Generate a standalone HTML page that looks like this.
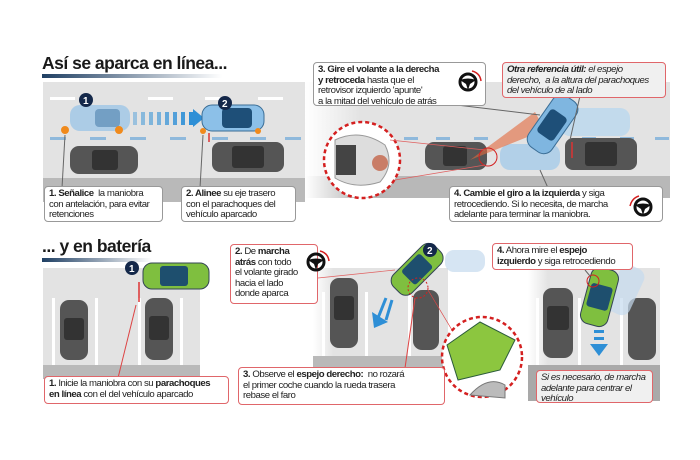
<!DOCTYPE html>
<html><head><meta charset="utf-8"><style>
body{margin:0;background:#fff;width:700px;height:460px;overflow:hidden;position:relative;font-family:"Liberation Sans",sans-serif}
.box{position:absolute;background:#fff;border:1px solid #999;border-radius:4px;padding:2px 4px;font-size:9.6px;line-height:10.6px;color:#222;box-sizing:border-box;letter-spacing:-0.45px;white-space:nowrap;overflow:hidden}
.red{border-color:#e0666a}
.h{position:absolute;font-weight:bold;font-size:17.5px;color:#1a1a1a;letter-spacing:-0.5px}
b{font-weight:bold}
</style></head><body>
<svg width="700" height="460" style="position:absolute;left:0;top:0">
<defs>
<linearGradient id="ul" x1="0" x2="1"><stop offset="0" stop-color="#1f3f63"/><stop offset="1" stop-color="#1f3f63" stop-opacity="0"/></linearGradient>
<linearGradient id="rd" x1="0" x2="1"><stop offset="0" stop-color="#e6e6e6" stop-opacity="0"/><stop offset="0.15" stop-color="#e3e3e3"/><stop offset="1" stop-color="#e3e3e3"/></linearGradient>
<linearGradient id="rd2" x1="0" x2="1"><stop offset="0" stop-color="#bbb" stop-opacity="0"/><stop offset="0.15" stop-color="#b8b8b8"/><stop offset="1" stop-color="#b8b8b8"/></linearGradient>
</defs>
<rect x="42" y="74" width="180" height="4" fill="url(#ul)"/>
<rect x="43" y="82" width="262" height="96" fill="#e3e3e3"/>
<rect x="43" y="178" width="262" height="24" fill="#b9b9b9"/>
<g fill="#fff"><rect x="50" y="97" width="25" height="3"/><rect x="148" y="97" width="25" height="3"/><rect x="205" y="97" width="25" height="3"/><rect x="258" y="97" width="25" height="3"/></g>
<g fill="#8fb9dc"><rect x="50" y="137" width="16" height="3"/><rect x="90" y="137" width="16" height="3"/><rect x="130" y="137" width="16" height="3"/><rect x="170" y="137" width="16" height="3"/><rect x="212" y="137" width="16" height="3"/><rect x="250" y="137" width="16" height="3"/><rect x="285" y="137" width="16" height="3"/></g>
<rect x="70" y="105" width="60" height="26" rx="10" fill="#9ec6e6" opacity="0.8"/>
<rect x="95" y="109" width="25" height="18" rx="4" fill="#5b8bb5" opacity="0.7"/>
<g fill="#2e8fd6"><rect x="133" y="112" width="4" height="13" opacity=".4"/><rect x="141" y="112" width="4" height="13" opacity=".5"/><rect x="149" y="112" width="4" height="13" opacity=".55"/><rect x="157" y="112" width="4" height="13" opacity=".6"/><rect x="165" y="112" width="4" height="13" opacity=".7"/><rect x="173" y="112" width="4" height="13" opacity=".8"/><rect x="181" y="112" width="4" height="13" opacity=".9"/><rect x="189" y="112" width="4" height="13"/></g>
<path d="M193 109 L204 118 L193 127Z" fill="#2e8fd6"/>
<rect x="202" y="105" width="62" height="26" rx="10" fill="#8cc0e8" stroke="#3b6e96"/>
<rect x="222" y="108" width="30" height="20" rx="4" fill="#1e4f78"/>
<rect x="70" y="146" width="68" height="28" rx="9" fill="#555"/><rect x="92" y="150" width="26" height="20" rx="3" fill="#333"/>
<rect x="212" y="142" width="72" height="30" rx="8" fill="#555"/><rect x="232" y="146" width="32" height="22" rx="3" fill="#333"/>
<circle cx="86" cy="100" r="7" fill="#14284a"/><circle cx="225" cy="103" r="7" fill="#14284a"/>
<text x="83" y="104" fill="#fff" font-size="10" font-weight="bold" font-family="Liberation Sans">1</text>
<text x="222" y="107" fill="#fff" font-size="10" font-weight="bold" font-family="Liberation Sans">2</text>
<g fill="#f08a1c"><circle cx="65" cy="130" r="4"/><circle cx="119" cy="130" r="4"/><circle cx="203" cy="131" r="3"/><circle cx="258" cy="131" r="3"/></g>
<line x1="209" y1="133" x2="209" y2="142" stroke="#d33" stroke-width="1.5"/>
<line x1="65" y1="135" x2="62" y2="188" stroke="#666"/><line x1="203" y1="135" x2="200" y2="188" stroke="#666"/>
<rect x="305" y="82" width="365" height="94" fill="url(#rd)"/>
<rect x="305" y="176" width="365" height="22" fill="url(#rd2)"/>
<g fill="#8fb9dc"><rect x="404" y="137" width="14" height="3"/><rect x="436" y="137" width="14" height="3"/><rect x="474" y="137" width="14" height="3"/><rect x="582" y="137" width="14" height="3"/><rect x="620" y="137" width="14" height="3"/><rect x="655" y="137" width="14" height="3"/></g>
<rect x="425" y="142" width="62" height="28" rx="9" fill="#555"/><rect x="443" y="146" width="24" height="20" rx="3" fill="#333"/>
<rect x="565" y="138" width="72" height="32" rx="8" fill="#555"/><rect x="585" y="142" width="32" height="24" rx="3" fill="#333"/>
<rect x="500" y="144" width="60" height="26" rx="10" fill="#a9cde9" opacity="0.85"/>
<rect x="560" y="108" width="70" height="28" rx="10" fill="#b9d7ee" opacity="0.8"/>
<path d="M470 160 L535 112 L545 130Z" fill="#e2673a" opacity="0.6"/>
<g transform="rotate(-55 552 125)"><rect x="522" y="111" width="62" height="28" rx="10" fill="#7fb6e0" stroke="#3b6e96"/><rect x="538" y="115" width="28" height="20" rx="4" fill="#1e4f78"/></g>
<line x1="572" y1="142" x2="572" y2="158" stroke="#d33" stroke-width="1.5"/>
<circle cx="362" cy="160" r="38" fill="#fff" stroke="#d42020" stroke-width="2.5" stroke-dasharray="4 3"/>
<path d="M335 140 Q360 128 385 145 Q395 165 380 182 Q355 190 335 178Z" fill="#ddd" stroke="#999"/>
<rect x="336" y="145" width="20" height="30" fill="#444"/>
<circle cx="380" cy="163" r="8" fill="#c4654a" opacity=".8"/>
<circle cx="488" cy="157" r="9" fill="none" stroke="#d42020"/>
<line x1="390" y1="140" x2="485" y2="150" stroke="#e06060" stroke-width=".7"/><line x1="395" y1="180" x2="485" y2="165" stroke="#e06060" stroke-width=".7"/>
<line x1="440" y1="103" x2="540" y2="115" stroke="#666"/><line x1="580" y1="96" x2="570" y2="140" stroke="#666"/><line x1="540" y1="170" x2="548" y2="188" stroke="#666"/>
<rect x="42" y="258" width="110" height="4" fill="url(#ul)"/>
<rect x="43" y="268" width="157" height="97" fill="#e3e3e3"/><rect x="43" y="365" width="157" height="14" fill="#b9b9b9"/>
<g fill="#fff"><rect x="52" y="298" width="3" height="67"/><rect x="95" y="298" width="3" height="67"/><rect x="138" y="298" width="3" height="67"/><rect x="180" y="298" width="3" height="67"/></g>
<rect x="60" y="300" width="28" height="60" rx="9" fill="#555"/><rect x="64" y="318" width="20" height="22" rx="3" fill="#333"/>
<rect x="145" y="298" width="28" height="62" rx="9" fill="#555"/><rect x="149" y="316" width="20" height="24" rx="3" fill="#333"/>
<rect x="143" y="263" width="66" height="26" rx="9" fill="#7fbf3f" stroke="#345"/><rect x="160" y="266" width="28" height="20" rx="3" fill="#1e4f6e"/>
<circle cx="132" cy="268" r="7" fill="#14284a"/><text x="129" y="272" fill="#fff" font-size="10" font-weight="bold" font-family="Liberation Sans">1</text>
<line x1="139" y1="282" x2="139" y2="302" stroke="#d33" stroke-width="1.5"/>
<line x1="136" y1="305" x2="118" y2="378" stroke="#d44"/>
<rect x="313" y="268" width="135" height="88" fill="url(#rd)"/><rect x="313" y="356" width="135" height="14" fill="#b9b9b9"/>
<g fill="#fff"><rect x="322" y="292" width="3" height="64"/><rect x="365" y="292" width="3" height="64"/><rect x="408" y="292" width="3" height="64"/></g>
<rect x="330" y="278" width="28" height="70" rx="9" fill="#555"/><rect x="334" y="296" width="20" height="24" rx="3" fill="#333"/>
<rect x="413" y="290" width="26" height="60" rx="9" fill="#555"/>
<path d="M386 298 L378 318 M392 300 L386 320" stroke="#2e8fd6" stroke-width="3"/><path d="M372 312 L388 322 L374 328Z" fill="#2e8fd6"/>
<rect x="445" y="250" width="40" height="22" rx="9" fill="#c4daee" opacity=".7"/>
<g transform="rotate(-45 415 270)"><rect x="388" y="258" width="58" height="26" rx="9" fill="#7fbf3f" stroke="#345"/><rect x="404" y="261" width="26" height="20" rx="3" fill="#1e4f6e"/></g>
<circle cx="430" cy="250" r="7" fill="#14284a"/><text x="427" y="254" fill="#fff" font-size="10" font-weight="bold" font-family="Liberation Sans">2</text>
<circle cx="418" cy="288" r="10" fill="none" stroke="#d42020" stroke-dasharray="2 2"/>
<line x1="415" y1="298" x2="405" y2="368" stroke="#d44"/><line x1="428" y1="290" x2="455" y2="335" stroke="#d44" stroke-width=".7"/>
<circle cx="482" cy="357" r="40" fill="#fff" stroke="#d42020" stroke-width="2.5" stroke-dasharray="4 3"/>
<path d="M447 345 L480 322 L515 340 L500 370 L458 380Z" fill="#8cc63f" stroke="#2a5a3a"/>
<path d="M470 395 Q488 375 505 385 L505 398Z" fill="#bbb" stroke="#777"/>
<line x1="318" y1="278" x2="395" y2="270" stroke="#e06060" stroke-width=".7"/>
<rect x="528" y="268" width="132" height="97" fill="url(#rd)"/><rect x="528" y="365" width="132" height="36" fill="#a9a9a9"/>
<g fill="#fff"><rect x="536" y="298" width="3" height="67"/><rect x="578" y="298" width="3" height="67"/><rect x="620" y="298" width="3" height="67"/></g>
<rect x="543" y="288" width="30" height="70" rx="9" fill="#555"/><rect x="547" y="306" width="22" height="24" rx="3" fill="#333"/>
<rect x="628" y="298" width="28" height="62" rx="9" fill="#555"/>
<g transform="rotate(25 625 290)"><rect x="612" y="265" width="26" height="50" rx="9" fill="#c4daee" opacity=".7"/></g>
<g transform="rotate(15 600 295)"><rect x="586" y="268" width="28" height="58" rx="9" fill="#7fbf3f" stroke="#345"/><rect x="589" y="285" width="22" height="24" rx="3" fill="#1e4f6e"/></g>
<circle cx="593" cy="281" r="6" fill="none" stroke="#d42020"/>
<g fill="#2e8fd6"><rect x="594" y="330" width="10" height="3"/><rect x="594" y="337" width="10" height="3"/><path d="M590 344 L608 344 L599 356Z"/></g>
<line x1="585" y1="270" x2="590" y2="276" stroke="#666"/>
</svg>
<div class="h" style="left:42px;top:53px">Así se aparca en línea...</div>
<div class="h" style="left:42px;top:236px">... y en batería</div>
<div class="box" style="left:44px;top:186px;width:119px;height:36px"><b>1. Señalice</b>&nbsp; la maniobra<br>con antelación, para evitar<br>retenciones</div>
<div class="box" style="left:181px;top:186px;width:115px;height:36px"><b>2. Alinee</b> su eje trasero<br>con el parachoques del<br>vehículo aparcado</div>
<div class="box" style="left:313px;top:62px;width:173px;height:44px"><b>3. Gire el volante a la derecha<br>y retroceda</b> hasta que el<br>retrovisor izquierdo 'apunte'<br>a la mitad del vehículo de atrás</div>
<div class="box red" style="left:502px;top:62px;width:164px;height:36px;background:#f0f0f0;font-style:italic"><b>Otra referencia útil:</b> el espejo<br>derecho,&nbsp; a la altura del parachoques<br>del vehículo de al lado</div>
<div class="box" style="left:449px;top:186px;width:214px;height:36px"><b>4. Cambie el giro a la izquierda</b> y siga<br>retrocediendo. Si lo necesita, de marcha<br>adelante para terminar la maniobra.</div>
<div class="box red" style="left:44px;top:376px;width:185px;height:28px"><b>1.</b> Inicie la maniobra con su <b>parachoques<br>en línea</b> con el del vehículo aparcado</div>
<div class="box red" style="left:230px;top:244px;width:88px;height:60px"><b>2.</b> De <b>marcha<br>atrás</b> con todo<br>el volante girado<br>hacia el lado<br>donde aparca</div>
<div class="box red" style="left:238px;top:367px;width:207px;height:38px"><b>3.</b> Observe el <b>espejo derecho:</b>&nbsp; no rozará<br>el primer coche cuando la rueda trasera<br>rebase el faro</div>
<div class="box red" style="left:492px;top:243px;width:141px;height:27px"><b>4.</b> Ahora mire el <b>espejo<br>izquierdo</b> y siga retrocediendo</div>
<div class="box red" style="left:536px;top:370px;width:117px;height:33px;background:#f0f0f0;font-style:italic">Si es necesario, de marcha<br>adelante para centrar el<br>vehículo</div>
<svg width="700" height="460" style="position:absolute;left:0;top:0;pointer-events:none">
<g fill="none" stroke="#111" stroke-width="3"><circle cx="468" cy="82" r="8"/><circle cx="643" cy="207" r="8"/><circle cx="316" cy="262" r="8"/></g>
<g fill="#111"><path d="M460 80 Q468 77 476 80 L470 84 L468 90 L466 84Z"/><path d="M635 205 Q643 202 651 205 L645 209 L643 215 L641 209Z"/><path d="M308 260 Q316 257 324 260 L318 264 L316 270 L314 264Z"/></g>
<g fill="none" stroke="#d42020" stroke-width="1.5"><path d="M472 71 Q480 73 481 81"/><path d="M639 196 Q632 198 630 206"/><path d="M320 251 Q328 253 329 261"/></g>
</svg>
</body></html>
